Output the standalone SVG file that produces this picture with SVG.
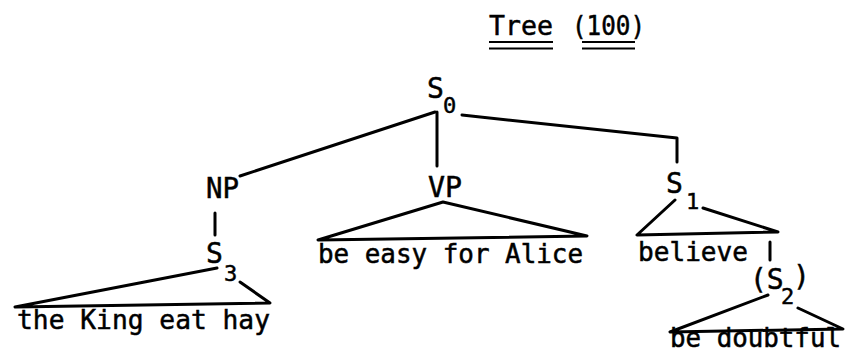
<svg xmlns="http://www.w3.org/2000/svg" width="845" height="353" viewBox="0 0 845 353">
<style>
text{font-family:"DejaVu Sans Mono","Liberation Mono",monospace;font-size:26px;fill:#000;stroke:#000;stroke-width:0.5}
.big{font-size:28px}
.sub{font-size:22px}
.ln{stroke:#000;stroke-width:3;fill:none;stroke-linecap:round;stroke-linejoin:round}
.ul{stroke:#000;stroke-width:2.2;fill:none}
</style>
<rect width="845" height="353" fill="#fff"/>
<g id="title">
<text x="489" y="35" textLength="64" lengthAdjust="spacingAndGlyphs">Tree</text>
<text x="572" y="35" textLength="73" lengthAdjust="spacingAndGlyphs">(100)</text>
<path class="ul" d="M489 42H553M489 48.5H553M582 42H635M582 48.5H635"/>
</g>
<g id="connectors">
<path class="ln" d="M435 112L240 176"/>
<path class="ln" d="M437 112V166"/>
<path class="ln" d="M462 115L677 138V162"/>
<path class="ln" d="M215 213V235"/>
<path class="ln" d="M217 268L15 307L270 303L240 282"/>
<path class="ln" d="M318 240L443 202L587 236Z"/>
<path class="ln" d="M675 200L637 235L778 232L703 208"/>
<path class="ln" d="M770 242V260"/>
<path class="ln" d="M768 295L670 332L843 329L798 308"/>
</g>
<g id="S0">
<text class="big" x="427" y="98">S</text><text class="sub" x="443" y="113">0</text>
</g>
<g id="NP">
<text class="big" x="206" y="198" textLength="33" lengthAdjust="spacingAndGlyphs">NP</text>
</g>
<g id="VP">
<text class="big" x="428" y="197" textLength="34" lengthAdjust="spacingAndGlyphs">VP</text>
</g>
<g id="S1">
<text class="big" x="666" y="193">S</text><text class="sub" x="686" y="209">1</text>
</g>
<g id="S3">
<text class="big" x="206" y="263">S</text><text class="sub" x="224" y="281">3</text>
</g>
<g id="S2">
<text class="big" x="750" y="289">(S</text><text class="sub" x="781" y="304">2</text><text class="big" x="793" y="286">)</text>
</g>
<g id="leaf-king">
<text x="17" y="329" textLength="253" lengthAdjust="spacingAndGlyphs">the King eat hay</text>
</g>
<g id="leaf-easy">
<text x="318" y="263" textLength="265" lengthAdjust="spacingAndGlyphs">be easy for Alice</text>
</g>
<g id="leaf-believe">
<text x="638" y="261" textLength="110" lengthAdjust="spacingAndGlyphs">believe</text>
</g>
<g id="leaf-doubtful">
<text x="670" y="347" textLength="171" lengthAdjust="spacingAndGlyphs">be doubtful</text>
</g>
</svg>
